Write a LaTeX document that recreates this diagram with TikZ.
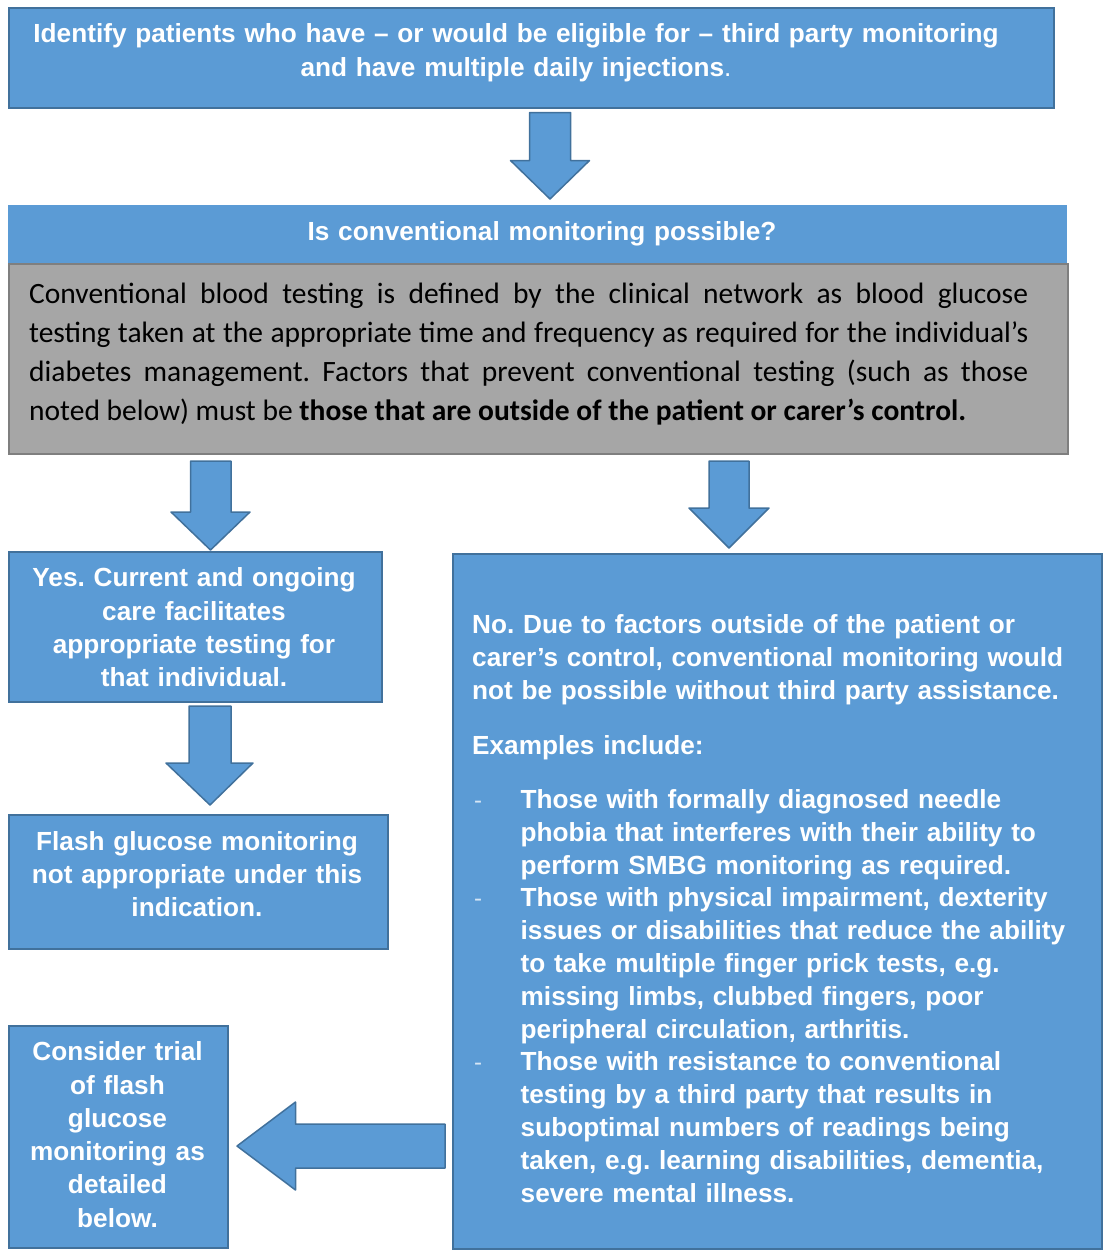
\documentclass[tikz,border=0pt]{standalone}
\usepackage{fontspec}
\setmainfont{Liberation Sans}
\newfontfamily\carl{Carlito}
\definecolor{fillblue}{HTML}{5B9BD5}
\definecolor{edgeblue}{HTML}{41719C}
\definecolor{fillgray}{HTML}{A6A6A6}
\definecolor{edgegray}{HTML}{7F7F7F}
\frenchspacing
\begin{document}
\begin{tikzpicture}[x=1pt,y=-1pt,
  bbox/.style={draw=edgeblue, fill=fillblue, line width=1.8pt, anchor=north west, inner sep=0pt},
  blockarrow/.style={draw=edgeblue, fill=fillblue, line width=1.5pt, line join=round},
  wtext/.style={text=white, font=\fontsize{26.2}{33.3}\selectfont\bfseries, inner sep=0pt, anchor=base, align=center},
  ltext/.style={text=white, font=\fontsize{26.2}{33}\selectfont\bfseries, inner sep=0pt, anchor=base west, align=left, text width=620pt},
  btext/.style={text=white, font=\fontsize{26.2}{32.8}\selectfont\bfseries, inner sep=0pt, anchor=base west, align=left, text width=575pt},
  dashmark/.style={text=white!75!fillblue, font=\fontsize{24}{30}\selectfont, inner sep=0pt, anchor=base west},
]
\useasboundingbox (0,0) rectangle (1103,1251);

% boxes
\node[bbox, minimum width=1045pt, minimum height=100pt] (top) at (8,7) {};
\node[fill=fillblue, anchor=north west, inner sep=0pt, minimum width=1059pt, minimum height=58pt] (head) at (8,205) {};
\node[draw=edgegray, fill=fillgray, line width=2pt, anchor=north west, inner sep=0pt, minimum width=1059pt, minimum height=190pt] (gray) at (8,263) {};
\node[bbox, minimum width=373pt, minimum height=150pt] (yes) at (8,551) {};
\node[bbox, minimum width=379pt, minimum height=134pt] (flash) at (8,814) {};
\node[bbox, minimum width=219pt, minimum height=222pt] (consider) at (8,1025) {};
\node[bbox, minimum width=649pt, minimum height=695pt] (no) at (452,553) {};

% block arrows
\draw[blockarrow] (529.5,112.5) -- (570.5,112.5) -- (570.5,160.5) -- (589.5,160.5) -- (550,199) -- (510.5,160.5) -- (529.5,160.5) -- cycle;
\draw[blockarrow] (190.5,461) -- (231,461) -- (231,512) -- (250,512) -- (210.5,550) -- (171,512) -- (190.5,512) -- cycle;
\draw[blockarrow] (709,461) -- (749,461) -- (749,508) -- (769,508) -- (729,548) -- (689,508) -- (709,508) -- cycle;
\draw[blockarrow] (189,706) -- (231,706) -- (231,763) -- (253,763) -- (210,805) -- (166,763) -- (189,763) -- cycle;
\draw[blockarrow] (445,1124) -- (445,1168) -- (295.5,1168) -- (295.5,1190) -- (237,1146) -- (295.5,1102) -- (295.5,1124) -- cycle;

% texts
\node[wtext, text width=1040pt] (ttop) at (516,42.7) {Identify patients who have – or would be eligible for – third party monitoring\\and have multiple daily injections{\mdseries .}};
\node[wtext, text width=700pt] (thead) at (542,240) {Is conventional monitoring possible?};
\node[anchor=base west, text width=999pt, align=justify, inner sep=0pt, font=\carl\fontsize{29.5}{39}\selectfont] (tgray) at (29,303.5) {Conventional blood testing is defined by the clinical network as blood glucose\linebreak testing taken at the appropriate time and frequency as required for the individual’s\linebreak diabetes management. Factors that prevent conventional testing (such as those\linebreak noted below) must be \textbf{those that are outside of the patient or carer’s control.}};
\node[wtext, text width=370pt] (tyes) at (194,586.7) {Yes. Current and ongoing\\care facilitates\\appropriate testing for\\that individual.};
\node[wtext, text width=375pt] (tflash) at (197,850) {Flash glucose monitoring\\not appropriate under this\\indication.};
\node[wtext, text width=215pt] (tconsider) at (117.5,1060.7) {Consider trial\\of flash\\glucose\\monitoring as\\detailed\\below.};

\node[ltext] (tno) at (472,633.3) {No. Due to factors outside of the patient or\\carer’s control, conventional monitoring would\\not be possible without third party assistance.};
\node[ltext] (tex) at (472,754.6) {Examples include:};
\node[dashmark] (d1) at (474,808.5) {-};
\node[btext] (b1) at (520.5,808.5) {Those with formally diagnosed needle\\phobia that interferes with their ability to\\perform SMBG monitoring as required.};
\node[dashmark] (d2) at (474,906.9) {-};
\node[btext] (b2) at (520.5,906.9) {Those with physical impairment, dexterity\\issues or disabilities that reduce the ability\\to take multiple finger prick tests, e.g.\\missing limbs, clubbed fingers, poor\\peripheral circulation, arthritis.};
\node[dashmark] (d3) at (474,1070.9) {-};
\node[btext] (b3) at (520.5,1070.9) {Those with resistance to conventional\\testing by a third party that results in\\suboptimal numbers of readings being\\taken, e.g. learning disabilities, dementia,\\severe mental illness.};
\end{tikzpicture}
\end{document}
